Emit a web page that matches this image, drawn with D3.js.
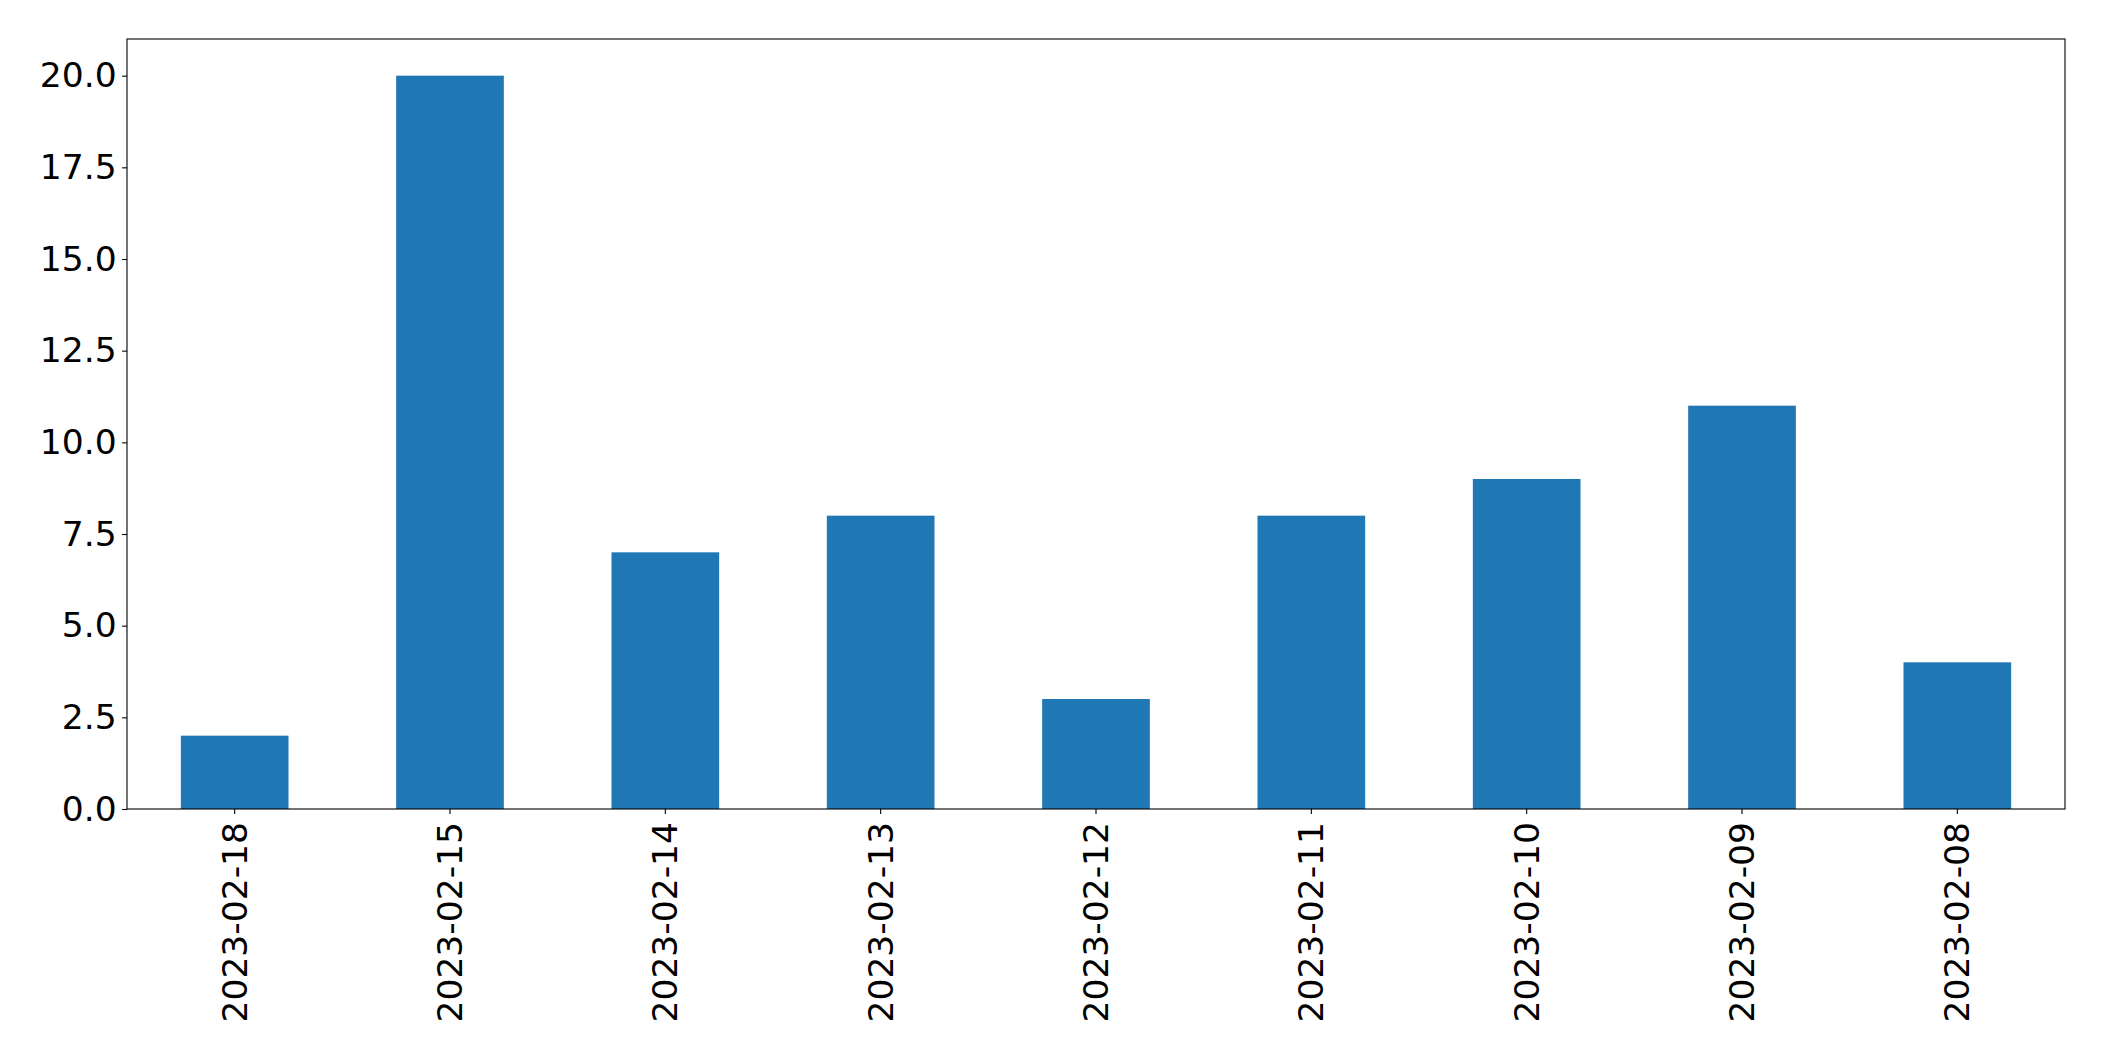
<!DOCTYPE html>
<html>
<head>
<meta charset="utf-8">
<script src="https://cdn.jsdelivr.net/npm/d3@7"></script>
<style>
  html, body { margin: 0; padding: 0; background: #fff; }
  svg { display: block; }
  text { font-family: "DejaVu Sans", sans-serif; }
</style>
</head>
<body>
<svg id="chart" width="2104" height="1061"></svg>
<script>
const categories = ["2023-02-18","2023-02-15","2023-02-14","2023-02-13","2023-02-12","2023-02-11","2023-02-10","2023-02-09","2023-02-08"];
const values = [2, 20, 7, 8, 3, 8, 9, 11, 4];
const yTicks = [0, 2.5, 5, 7.5, 10, 12.5, 15, 17.5, 20];

const W = 2104, H = 1061;
const margin = {left: 127, right: W - 2065, top: 39, bottom: H - 809};
const svg = d3.select("#chart");
const g = svg.append("g").attr("transform", `translate(${margin.left},${margin.top})`);
const iw = W - margin.left - margin.right;
const ih = H - margin.top - margin.bottom;

const x = d3.scaleBand().domain(categories).range([0, iw]).paddingInner(0.5).paddingOuter(0.25);
const y = d3.scaleLinear().domain([0, 21]).range([ih, 0]);

g.selectAll("rect.bar").data(values).enter().append("rect")
  .attr("class", "bar")
  .attr("x", (d, i) => x(categories[i]))
  .attr("y", d => y(d))
  .attr("width", x.bandwidth())
  .attr("height", d => ih - y(d))
  .attr("fill", "#1f77b4");

const fs = "34.5px";
const yAxis = g.append("g").call(d3.axisLeft(y).tickValues(yTicks).tickFormat(d3.format(".1f")).tickSize(4.9).tickPadding(5.5));
yAxis.select(".domain").remove();
yAxis.selectAll("line").attr("stroke", "#000").attr("stroke-width", 1.1);
yAxis.selectAll("text").style("font-size", fs).attr("fill", "#000").attr("font-family", "DejaVu Sans");

const xAxis = g.append("g").attr("transform", `translate(0,${ih})`)
  .call(d3.axisBottom(x).tickSize(4.9).tickPadding(4.9));
xAxis.select(".domain").remove();
xAxis.selectAll("line").attr("stroke", "#000").attr("stroke-width", 1.1);
xAxis.selectAll("text")
  .style("font-size", fs).attr("fill", "#000").attr("font-family", "DejaVu Sans")
  .attr("text-anchor", "end")
  .attr("transform", "rotate(-90)")
  .attr("x", -13)
  .attr("y", 0)
  .attr("dy", "0.35em");

// frame
g.append("rect").attr("x", 0).attr("y", 0).attr("width", iw).attr("height", ih)
  .attr("fill", "none").attr("stroke", "#000").attr("stroke-width", 1.1);
</script>
</body>
</html>
